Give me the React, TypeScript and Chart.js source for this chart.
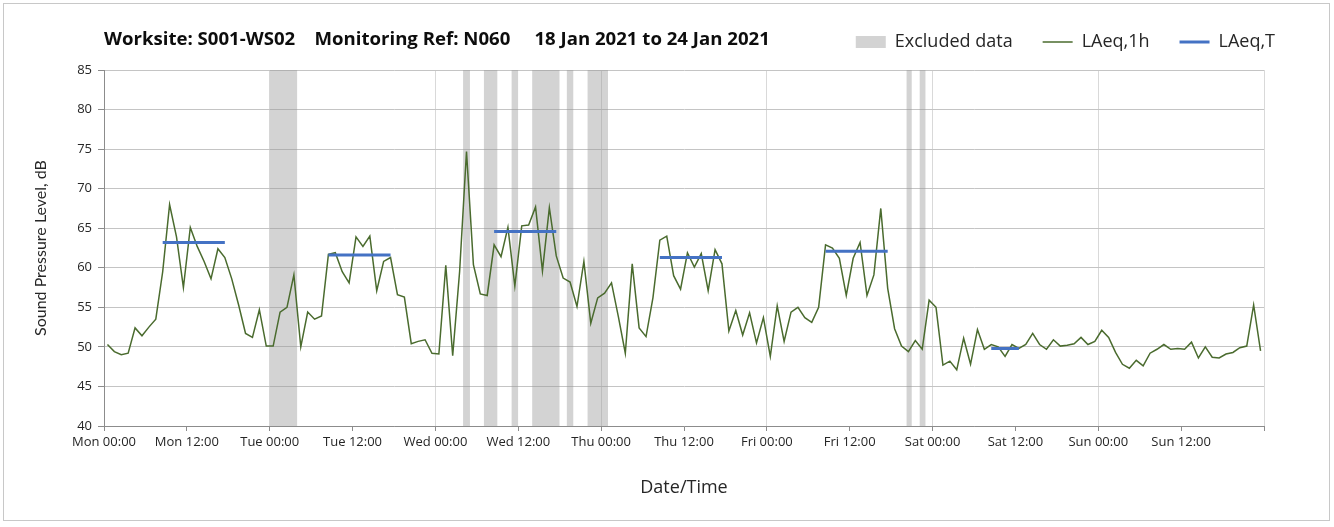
import React, { useEffect, useRef } from 'react';
import { Chart, registerables } from 'chart.js';

Chart.register(...registerables);

const chartTitle = 'Worksite: S001-WS02    Monitoring Ref: N060     18 Jan 2021 to 24 Jan 2021';

const xTickLabels = [
  'Mon 00:00', 'Mon 12:00', 'Tue 00:00', 'Tue 12:00', 'Wed 00:00', 'Wed 12:00', 'Thu 00:00',
  'Thu 12:00', 'Fri 00:00', 'Fri 12:00', 'Sat 00:00', 'Sat 12:00', 'Sun 00:00', 'Sun 12:00',
];

// Hourly LAeq,1h values (dB), Mon 00:00 .. Sun 23:00
const laeq1h = [
  50.3, 49.4, 49.0, 49.2, 52.4, 51.4, 52.5, 53.5, 59.5, 68.0, 63.9, 57.5, 65.1, 62.7, 60.8, 58.6,
  62.4, 61.3, 58.6, 55.3, 51.7, 51.2, 54.7, 50.1,
  50.1, 54.4, 55.0, 59.1, 50.0, 54.4, 53.5, 53.9, 61.7, 61.9, 59.5, 58.1, 63.9, 62.7, 64.0, 57.1,
  60.8, 61.3, 56.6, 56.3, 50.4, 50.7, 50.9, 49.2,
  49.1, 60.3, 48.9, 59.5, 74.7, 60.4, 56.7, 56.5, 62.9, 61.4, 65.1, 57.7, 65.3, 65.4, 67.7, 59.6,
  67.6, 61.5, 58.7, 58.2, 55.1, 60.8, 53.0, 56.2,
  56.8, 58.1, 53.8, 49.2, 60.5, 52.4, 51.3, 56.2, 63.5, 64.0, 59.0, 57.3, 61.9, 60.1, 61.8, 57.1,
  62.3, 60.5, 52.0, 54.6, 51.5, 54.3, 50.5, 53.7,
  48.8, 55.2, 50.7, 54.4, 55.0, 53.7, 53.1, 55.0, 62.9, 62.5, 61.2, 56.5, 61.2, 63.2, 56.5, 59.1,
  67.5, 57.4, 52.3, 50.1, 49.4, 50.8, 49.7, 55.9,
  55.0, 47.7, 48.2, 47.1, 51.1, 47.8, 52.2, 49.7, 50.3, 50.0, 48.8, 50.3, 49.8, 50.3, 51.7, 50.3,
  49.7, 50.9, 50.1, 50.2, 50.4, 51.2, 50.3, 50.7,
  52.1, 51.2, 49.3, 47.8, 47.3, 48.3, 47.6, 49.2, 49.7, 50.3, 49.7, 49.8, 49.7, 50.6, 48.6, 50.0,
  48.7, 48.6, 49.1, 49.3, 49.9, 50.1, 55.3, 49.5,
];

// LAeq,T daytime periods (first hour, last hour, level dB)
const laeqTStartHour = [8, 32, 56, 80, 104, 128];
const laeqTEndHour = [17, 41, 65, 89, 113, 132];
const laeqTLevel = [63.2, 61.6, 64.6, 61.3, 62.1, 49.8];

// Excluded data periods (hours from Mon 00:00)
const excludedStartHour = [24, 52, 55, 59, 62, 67, 70, 116.2, 118.1];
const excludedEndHour = [28, 53, 57, 60, 66, 68, 73, 117, 119];

const FONT = '"Open Sans"';
const TEXT = '#262626';

export default function App() {
  const canvasRef = useRef<HTMLCanvasElement | null>(null);

  useEffect(() => {
    document.body.style.margin = '0';
    const canvas = canvasRef.current;
    if (!canvas) return;

    const bandSets = excludedStartHour.map((s, i) => ({
      type: 'line' as const,
      label: 'Excluded data',
      data: [
        { x: s, y: 85 },
        { x: excludedEndHour[i], y: 85 },
      ],
      fill: 'start',
      backgroundColor: 'rgba(150,150,150,0.42)',
      borderColor: 'rgba(0,0,0,0)',
      borderWidth: 0,
      pointRadius: 0,
      pointStyle: 'rect',
      order: 2,
    }));

    const lineData = laeq1h.map((v, i) => ({ x: i + 0.5, y: v }));

    const tData: { x: number; y: number | null }[] = [];
    laeqTStartHour.forEach((s, i) => {
      const e = laeqTEndHour[i];
      tData.push({ x: s + 0.5, y: laeqTLevel[i] });
      tData.push({ x: e + 0.5, y: laeqTLevel[i] });
      tData.push({ x: e + 1, y: null });
    });

    const nBands = bandSets.length;

    const titlePlugin = {
      id: 'chartTitleText',
      afterDraw(chart: any) {
        const { ctx, chartArea } = chart;
        ctx.save();
        ctx.font = `bold 18.6px ${FONT}`;
        ctx.fillStyle = '#0d0d0d';
        ctx.textBaseline = 'middle';
        ctx.textAlign = 'left';
        ctx.fillText(chartTitle, chartArea.left, 40);
        ctx.restore();
      },
    };

    const chart = new Chart(canvas, {
      type: 'line',
      data: {
        datasets: [
          ...bandSets,
          {
            label: 'LAeq,1h',
            data: lineData,
            borderColor: '#4a6b2e',
            backgroundColor: '#4a6b2e',
            borderWidth: 1.5,
            pointRadius: 0,
            pointStyle: 'line',
            tension: 0,
            fill: false,
            order: 1,
          },
          {
            label: 'LAeq,T',
            data: tData,
            borderColor: '#4472C4',
            backgroundColor: '#4472C4',
            borderWidth: 3,
            pointRadius: 0,
            pointStyle: 'line',
            spanGaps: false,
            fill: false,
            order: 0,
          },
        ] as any,
      },
      plugins: [titlePlugin],
      options: {
        responsive: false,
        animation: false,
        devicePixelRatio: 1,
        layout: { padding: { left: 0, right: 29, top: 3, bottom: 0 } },
        plugins: {
          tooltip: { enabled: false },
          legend: {
            display: true,
            position: 'top',
            align: 'end',
            labels: {
              usePointStyle: true,
              pointStyleWidth: 30,
              boxHeight: 12,
              padding: 30,
              color: TEXT,
              font: { family: FONT, size: 18 },
              filter: (item: any) => item.datasetIndex === 0 || item.datasetIndex >= nBands,
              sort: (a: any, b: any) => a.datasetIndex - b.datasetIndex,
            },
          },
          subtitle: {
            display: true,
            text: '',
            position: 'top',
            weight: 0,
            font: { size: 1, lineHeight: 1 },
            padding: { top: 8, bottom: 0 },
          },
          title: { display: false },
        },
        scales: {
          x: {
            type: 'linear',
            min: 0,
            max: 168,
            afterFit: (s: any) => {
              s.height = 101;
            },
            ticks: {
              stepSize: 12,
              autoSkip: false,
              maxRotation: 0,
              minRotation: 0,
              padding: 3,
              color: TEXT,
              font: { family: FONT, size: 13 },
              callback: (_v: any, i: number) => xTickLabels[i] ?? '',
            },
            grid: {
              color: (c: any) => (c.tick && c.tick.value % 24 === 0 ? '#d9d9d9' : 'rgba(0,0,0,0)'),
              tickColor: '#8c8c8c',
              tickLength: 5,
              lineWidth: 1,
            },
            border: { display: true, color: '#8c8c8c', width: 1 },
            title: {
              display: true,
              text: 'Date/Time',
              color: TEXT,
              font: { family: FONT, size: 18 },
              padding: { top: 0, bottom: 28 },
            },
          },
          y: {
            type: 'linear',
            min: 40,
            max: 85,
            afterFit: (s: any) => {
              s.width = 104;
            },
            ticks: {
              stepSize: 5,
              padding: 6,
              color: TEXT,
              font: { family: FONT, size: 13 },
            },
            grid: {
              color: '#c4c4c4',
              tickColor: '#8c8c8c',
              tickLength: 6,
              lineWidth: 1,
            },
            border: { display: true, color: '#8c8c8c', width: 1 },
            title: {
              display: true,
              text: 'Sound Pressure Level, dB',
              color: TEXT,
              font: { family: 'Lato', size: 16 },
              padding: { top: 31, bottom: 0 },
            },
          },
          y2: {
            type: 'linear',
            position: 'right',
            display: true,
            afterFit: (s: any) => {
              s.width = 41;
            },
            ticks: { display: false },
            grid: { display: false, drawTicks: false },
            border: { display: false },
            title: { display: false },
          },
        },
      } as any,
    });

    return () => {
      chart.destroy();
    };
  }, []);

  return (
    <div style={{ position: 'fixed', left: 0, top: 0, width: 1334, height: 527, background: '#fff' }}>
      <div
        style={{
          position: 'absolute',
          left: 3,
          top: 3,
          width: 1327,
          height: 518,
          boxSizing: 'border-box',
          border: '1px solid #c8c8c8',
        }}
      />
      <canvas
        ref={canvasRef}
        width={1334}
        height={527}
        style={{ position: 'absolute', left: 0, top: 0, width: 1334, height: 527 }}
      />
    </div>
  );
}
